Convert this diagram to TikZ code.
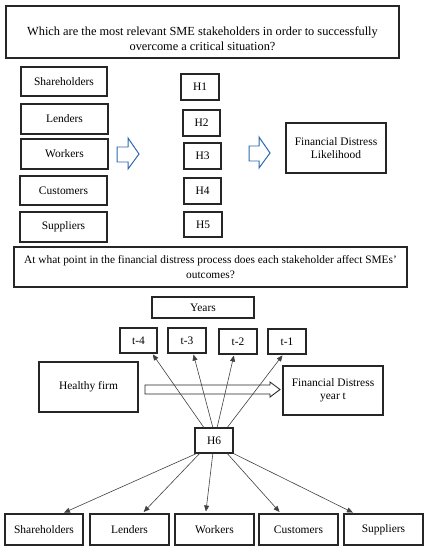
\documentclass[tikz,border=0pt]{standalone}
\usepackage{fontspec}
\setmainfont{Liberation Serif}
\usetikzlibrary{arrows.meta,calc}
\definecolor{arrowblue}{RGB}{46,104,176}
\begin{document}
\begin{tikzpicture}[x=1bp,y=-1bp,
  box/.style={draw=black!85,line width=1.1pt,inner sep=0pt,align=center,font=\fontsize{11.5}{13}\selectfont},
  blockarrow/.style={draw=arrowblue,line width=1pt,fill=white,line join=miter},
  link/.style={draw=black!75,line width=0.6pt,-{Triangle[length=6pt,width=5pt]},shorten >=1pt}]
\useasboundingbox (0,0) rectangle (428,550);
% top question
\node[box,font=\fontsize{12.4}{15}\selectfont,minimum width=393bp,minimum height=52bp] (q1) at (202.5,32) {\rule{0pt}{22pt}Which are the most relevant SME stakeholders in order to successfully\\overcome a critical situation?};
% stakeholders column
\node[box,minimum width=86bp,minimum height=29bp] (s1) at (64,81.5) {Shareholders};
\node[box,minimum width=87bp,minimum height=30bp] (s2) at (64.5,119) {Lenders};
\node[box,minimum width=87bp,minimum height=30bp] (s3) at (64.5,154) {Workers};
\node[box,minimum width=87bp,minimum height=29bp] (s4) at (63.5,190.5) {Customers};
\node[box,minimum width=87bp,minimum height=30bp] (s5) at (63.5,227) {Suppliers};
% hypotheses
\node[box,minimum width=38bp,minimum height=26bp] (h1) at (200,87) {H1};
\node[box,minimum width=37bp,minimum height=26bp] (h2) at (201.5,123) {H2};
\node[box,minimum width=37bp,minimum height=26bp] (h3) at (202.5,156) {H3};
\node[box,minimum width=37bp,minimum height=26bp] (h4) at (202.5,191) {H4};
\node[box,minimum width=38bp,minimum height=25bp] (h5) at (203,224.5) {H5};
% block arrows
\draw[blockarrow] (117,147) -- (128,147) -- (128,138) -- (139,154) -- (128,169) -- (128,162) -- (117,162) -- cycle;
\draw[blockarrow] (249,146) -- (259,146) -- (259,137) -- (270,153) -- (259,168) -- (259,161) -- (249,161) -- cycle;
\node[box,minimum width=100bp,minimum height=50bp] (fdl) at (336,148) {Financial Distress\\Likelihood};
% second question
\node[box,font=\fontsize{11.4}{15}\selectfont,minimum width=393bp,minimum height=40bp] (q2) at (210.5,267) {At what point in the financial distress process does each stakeholder affect SMEs'\\outcomes?};
% years
\node[box,minimum width=102bp,minimum height=21bp] (years) at (203,307.5) {Years};
\node[box,minimum width=37bp,minimum height=25bp] (t4) at (138.5,340.5) {t-4};
\node[box,minimum width=38bp,minimum height=25bp] (t3) at (187,340.5) {t-3};
\node[box,minimum width=38bp,minimum height=25bp] (t2) at (238,341.5) {t-2};
\node[box,minimum width=38bp,minimum height=25bp] (t1) at (287,341.5) {t-1};
\node[box,minimum width=99bp,minimum height=50bp] (hf) at (88.5,387) {Healthy firm};
\node[box,minimum width=100bp,minimum height=49bp] (fdy) at (333,390.5) {Financial Distress\\year t};
\draw[draw=black!85,line width=0.9pt,fill=white] (145,385) -- (270,385) -- (270,382) -- (280,389.5) -- (270,397) -- (270,394) -- (145,394) -- cycle;
% H6
\node[box,minimum width=38bp,minimum height=25bp] (h6) at (214,440.5) {H6};
% bottom stakeholders
\node[box,minimum width=78bp,minimum height=31bp] (b1) at (44,529.5) {Shareholders};
\node[box,minimum width=79bp,minimum height=31bp] (b2) at (129.5,529.5) {Lenders};
\node[box,minimum width=79bp,minimum height=31bp] (b3) at (214.5,529.5) {Workers};
\node[box,minimum width=79bp,minimum height=31bp] (b4) at (298.5,529.5) {Customers};
\node[box,minimum width=79bp,minimum height=31bp] (b5) at (383.5,529.5) {Suppliers};
% links up
\draw[link] ($(h6.north west)!0.24!(h6.north east)$) -- ($(t4.south west)!0.86!(t4.south east)$);
\draw[link] ($(h6.north west)!0.47!(h6.north east)$) -- ($(t3.south west)!0.66!(t3.south east)$);
\draw[link] ($(h6.north west)!0.58!(h6.north east)$) -- ($(t2.south west)!0.40!(t2.south east)$);
\draw[link] ($(h6.north west)!0.84!(h6.north east)$) -- ($(t1.south west)!0.40!(t1.south east)$);
% links down
\draw[link,shorten >=2pt] ($(h6.south west)!0.05!(h6.south east)$) -- ($(b1.north west)!0.73!(b1.north east)$);
\draw[link,shorten >=2pt] ($(h6.south west)!0.13!(h6.south east)$) -- ($(b2.north west)!0.66!(b2.north east)$);
\draw[link,shorten >=2pt] ($(h6.south west)!0.47!(h6.south east)$) -- ($(b3.north west)!0.39!(b3.north east)$);
\draw[link,shorten >=2pt] ($(h6.south west)!0.84!(h6.south east)$) -- ($(b4.north west)!0.28!(b4.north east)$);
\draw[link,shorten >=2pt] ($(h6.south west)!1.0!(h6.south east)$) -- ($(b5.north west)!0.14!(b5.north east)$);
\end{tikzpicture}
\end{document}
